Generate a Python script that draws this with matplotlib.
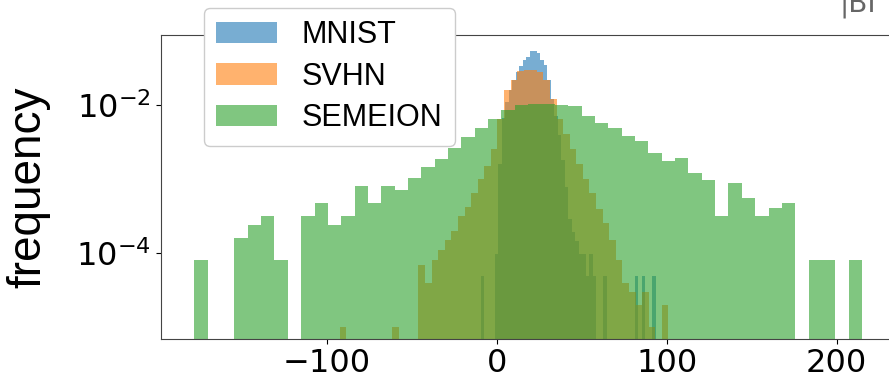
""" Histogram of scores, log frequency """

import numpy as np
import matplotlib
matplotlib.use('Agg')
import matplotlib.pyplot as plt
from matplotlib.ticker import NullLocator

# -- Data (counts per bin, 50 bins each)

labels = ['MNIST', 'SVHN', 'SEMEION']
n_samples = [10000, 26032, 1593]
ranges = [(-9.4, 93.6), (-92.5, 101.0), (-177.9, 214.9)]

mnist_counts = [1, 0, 0, 0, 2, 33, 136, 227, 330, 453,
                577, 700, 824, 927, 1112, 1112, 1030, 824, 721, 453,
                247, 144, 82, 37, 16, 6, 4, 3, 2, 2,
                1, 2, 1, 0, 0, 1, 0, 0, 0, 0,
                0, 0, 0, 0, 1, 0, 1, 0, 0, 1]

svhn_counts = [1, 0, 0, 0, 0, 0, 0, 0, 1, 0,
               0, 0, 7, 4, 8, 11, 15, 20, 32, 42,
               65, 101, 151, 252, 655, 1612, 2216, 2922, 3022, 3022,
               2821, 2216, 1209, 655, 403, 252, 161, 101, 65, 40,
               26, 15, 8, 4, 3, 2, 3, 1, 0, 2]

semeion_counts = [1, 0, 0, 2, 3, 4, 1, 0, 4, 6,
                  3, 4, 10, 6, 10, 9, 13, 18, 23, 33,
                  46, 62, 81, 108, 125, 128, 128, 124, 122, 88,
                  72, 61, 48, 41, 28, 22, 24, 15, 12, 4,
                  11, 7, 4, 5, 6, 0, 1, 1, 0, 1]

all_counts = [mnist_counts, svhn_counts, semeion_counts]

# -- Plot

fig = plt.figure(figsize=(8.89, 3.8), dpi=100)
ax = fig.add_axes([0.1811, 0.1092, 0.8261, 0.7987])

for counts, n, (lo, hi), lab in zip(all_counts, n_samples, ranges, labels):
    counts = np.asarray(counts, dtype=float)
    edges = np.linspace(lo, hi, len(counts) + 1)
    centers = 0.5 * (edges[:-1] + edges[1:])
    width = edges[1] - edges[0]
    ax.hist(centers, bins=edges, weights=counts / (n * width),
            alpha=0.6, log=True, label=lab)

ax.set_ylim(7.0e-6, 0.088)
ax.set_yticks([1e-4, 1e-2])
ax.yaxis.set_minor_locator(NullLocator())
ax.tick_params(labelsize=23)
for s in ax.spines.values():
    s.set_color('#444444')

ax.set_ylabel('frequency', family='Liberation Sans', fontsize=33)
ax.yaxis.set_label_coords(-0.151, 0.5)

leg = ax.legend(loc='upper left', bbox_to_anchor=(0.2295, 0.979),
                bbox_transform=fig.transFigure, borderaxespad=0,
                prop={'family': 'Liberation Sans', 'size': 22},
                labelspacing=0.38, framealpha=1)

fig.text(0.944, 0.971, '|BI', fontsize=20, color='#666666',
         va='baseline', ha='left')

plt.savefig('out.png', dpi=100)
